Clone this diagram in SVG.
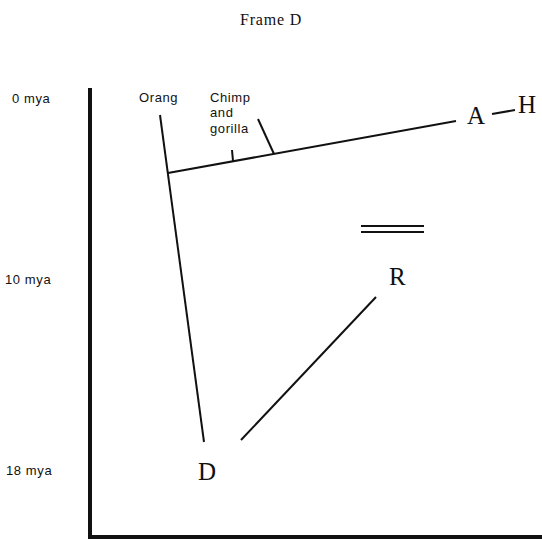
<svg xmlns="http://www.w3.org/2000/svg" width="542" height="541" viewBox="0 0 542 541">
<style>
.s{font-family:"Liberation Sans",Arial,sans-serif;font-size:13px;letter-spacing:0.6px;fill:#111}
.b{font-family:"Liberation Serif","Times New Roman",serif;font-size:25px;fill:#111}
.t{font-family:"Liberation Serif","Times New Roman",serif;font-size:16px;letter-spacing:0.8px;fill:#111}
.ln{stroke:#111;stroke-width:2;fill:none}
</style>
<rect width="542" height="541" fill="#fff"/>
<text class="t" x="271" y="25" text-anchor="middle">Frame D</text>
<g id="axis">
<line x1="90" y1="88" x2="90" y2="537" stroke="#111" stroke-width="4"/>
<line x1="88" y1="537" x2="542" y2="537" stroke="#111" stroke-width="4"/>
<text class="s" x="12" y="103">0  mya</text>
<text class="s" x="5" y="284">10  mya</text>
<text class="s" x="6" y="475">18  mya</text>
</g>
<g id="orang"><text class="s" x="139" y="102">Orang</text></g>
<g id="chimp"><text class="s" x="210" y="102">Chimp</text><text class="s" x="210" y="117">and</text><text class="s" x="210" y="133">gorilla</text></g>
<g id="A"><text class="b" x="467" y="124">A</text></g>
<g id="H"><text class="b" x="518" y="113">H</text></g>
<g id="R"><text class="b" x="389" y="285">R</text></g>
<g id="D"><text class="b" x="198" y="480">D</text></g>
<g id="equals">
<line class="ln" x1="361" y1="226" x2="424" y2="226"/>
<line class="ln" x1="361" y1="232" x2="424" y2="232"/>
</g>
<g id="connectors">
<line class="ln" x1="160" y1="115" x2="204" y2="442"/>
<line class="ln" x1="168" y1="173" x2="456" y2="121"/>
<line class="ln" x1="258" y1="119" x2="274" y2="154"/>
<line class="ln" x1="232" y1="150" x2="233" y2="161"/>
<line class="ln" x1="492" y1="114" x2="515" y2="110"/>
<line class="ln" x1="376" y1="297" x2="241" y2="440"/>
</g>
</svg>
